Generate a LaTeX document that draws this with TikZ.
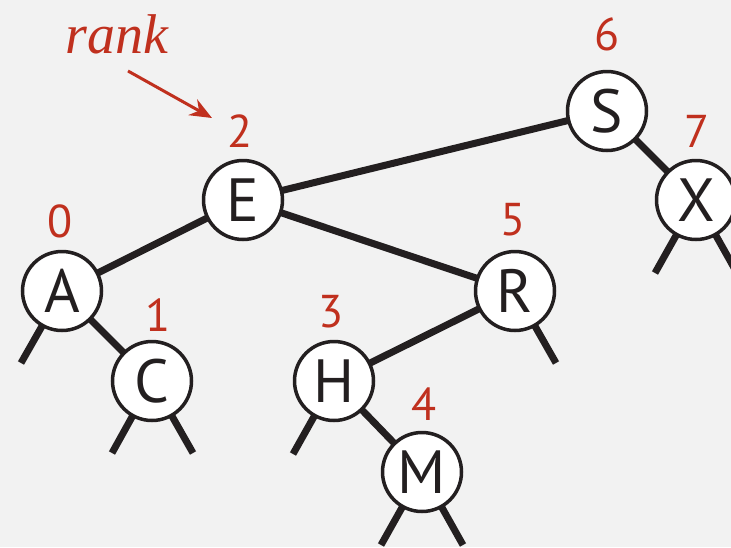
\documentclass[tikz,border=0pt]{standalone}
\usepackage{fontspec}
\setsansfont{PT Sans}
\newfontfamily\rankfont{Liberation Serif}
\usetikzlibrary{arrows.meta}
\definecolor{bg}{HTML}{F2F2F2}
\definecolor{ink}{HTML}{231F20}
\definecolor{rk}{HTML}{C0301E}
\tikzset{
  key/.style={circle, draw=ink, fill=white, line width=3.5pt, minimum size=79pt, inner sep=0pt, font=\sffamily\fontsize{61}{61}\selectfont, text=ink},
  rnk/.style={text=rk, inner sep=0pt, font=\sffamily\fontsize{46}{46}\selectfont},
  link/.style={draw=ink, line width=7pt},
}
\begin{document}
\begin{tikzpicture}[x=1pt,y=-1pt]
\fill[bg] (0,0) rectangle (731,547);
\useasboundingbox (0,0) rectangle (731,547);
\clip (0,0) rectangle (731,547);
% node positions
\coordinate (pE) at (243,200);
\coordinate (pA) at (62,291);
\coordinate (pC) at (152,381);
\coordinate (pR) at (515,291);
\coordinate (pH) at (334,381);
\coordinate (pM) at (422,472);
\coordinate (pS) at (607,111);
\coordinate (pX) at (696,200);
% stub ends
\coordinate (sA) at (21,363);
\coordinate (sCl) at (112,453);
\coordinate (sCr) at (193,453);
\coordinate (sH) at (293,454);
\coordinate (sMl) at (381,545);
\coordinate (sMr) at (463,545);
\coordinate (sR) at (556,363);
\coordinate (sXl) at (655,273);
\coordinate (sXr) at (737,273);
% links
\draw[link] (pE) -- (pA);
\draw[link] (pE) -- (pR);
\draw[link] (pE) -- (pS);
\draw[link] (pS) -- (pX);
\draw[link] (pA) -- (pC);
\draw[link] (pR) -- (pH);
\draw[link] (pH) -- (pM);
\draw[link] (pA) -- (sA);
\draw[link] (pC) -- (sCl);
\draw[link] (pC) -- (sCr);
\draw[link] (pH) -- (sH);
\draw[link] (pM) -- (sMl);
\draw[link] (pM) -- (sMr);
\draw[link] (pR) -- (sR);
\draw[link] (pX) -- (sXl);
\draw[link] (pX) -- (sXr);
% keys
\node[key] (E) at (pE) {E};
\node[key] (A) at (pA) {A};
\node[key] (C) at (pC) {C};
\node[key] (R) at (pR) {R};
\node[key] (H) at (pH) {H};
\node[key] (M) at (pM) {M};
\node[key] (S) at (pS) {S};
\node[key] (X) at (pX) {X};
% ranks
\node[rnk] (r2) at (240,131) {2};
\node[rnk] (r0) at (60,221) {0};
\node[rnk] (r1) at (158,315) {1};
\node[rnk] (r3) at (331,312) {3};
\node[rnk] (r4) at (424,404) {4};
\node[rnk] (r5) at (513,220) {5};
\node[rnk] (r6) at (607,34) {6};
\node[rnk] (r7) at (697,131) {7};
% label
\node[text=rk, inner sep=0pt, anchor=base, font=\rankfont\itshape\fontsize{56}{56}\selectfont] (lab) at (117,53) {rank};
\coordinate (arrS) at (128,71);
\coordinate (arrE) at (212,118);
\draw[draw=rk, line width=3pt, -{Stealth[length=22pt,width=18pt]}] (arrS) -- (arrE);
\end{tikzpicture}
\end{document}
